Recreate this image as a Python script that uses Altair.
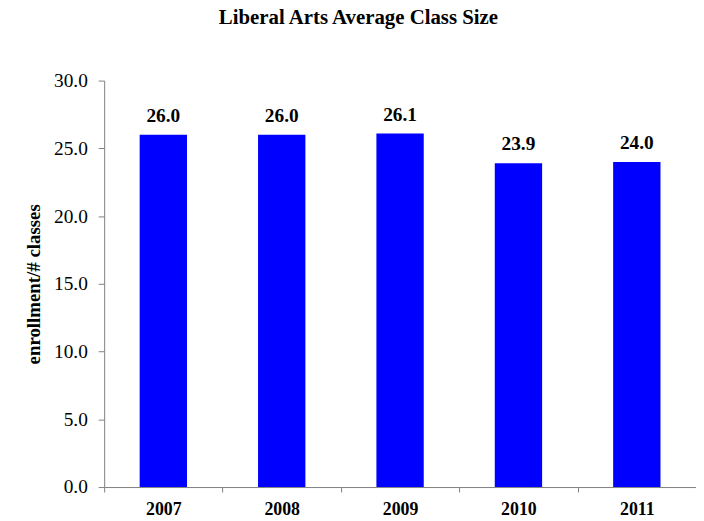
import altair as alt
import pandas as pd

years = ["2007", "2008", "2009", "2010", "2011"]
avg_size = [26.0, 26.0, 26.1, 23.9, 24.0]
y_ticks = [0, 5, 10, 15, 20, 25, 30]

df = pd.DataFrame({"year": years, "size": avg_size})
FONT = "Liberation Serif"

x = alt.X("year:N", sort=years, title=None,
          scale=alt.Scale(paddingInner=0, paddingOuter=0),
          axis=alt.Axis(labelAngle=0, tickBand="extent", tickSize=5,
                        labelFont=FONT, labelFontSize=18, labelFontWeight="bold",
                        labelColor="black", labelPadding=9,
                        domainColor="#808080", tickColor="#808080"))
y = alt.Y("size:Q", title="enrollment/# classes",
          scale=alt.Scale(domain=[0, 30], nice=False),
          axis=alt.Axis(values=y_ticks, format=".1f", grid=False, tickSize=6,
                        labelFont=FONT, labelFontSize=19.5, labelColor="black",
                        labelPadding=11, titleFont=FONT, titleFontSize=19,
                        titleFontWeight="bold", titleColor="black", titlePadding=10,
                        domainColor="#808080", tickColor="#808080"))

bars = alt.Chart(df).mark_bar(color="#0000FF", width=alt.RelativeBandSize(0.4)).encode(x=x, y=y)
labels = alt.Chart(df).mark_text(font=FONT, fontSize=19.5, fontWeight="bold", dy=-13,
                                 baseline="alphabetic", color="black").encode(
    x=alt.X("year:N", sort=years),
    y=alt.Y("size:Q"),
    text=alt.Text("size:Q", format=".1f"))

chart = alt.layer(bars, labels).properties(
    width=597, height=410,
    autosize=alt.AutoSizeParams(type="none"),
    padding={"left": 97, "top": 71, "right": 0, "bottom": 30},
    title=alt.TitleParams("Liberal Arts Average Class Size", font=FONT, fontSize=21,
                          fontWeight="bold", color="black", anchor="middle",
                          offset=43, dx=-42),
).configure_view(strokeWidth=0)

chart.save("out.html", embed_options={"renderer": "svg", "actions": False})
